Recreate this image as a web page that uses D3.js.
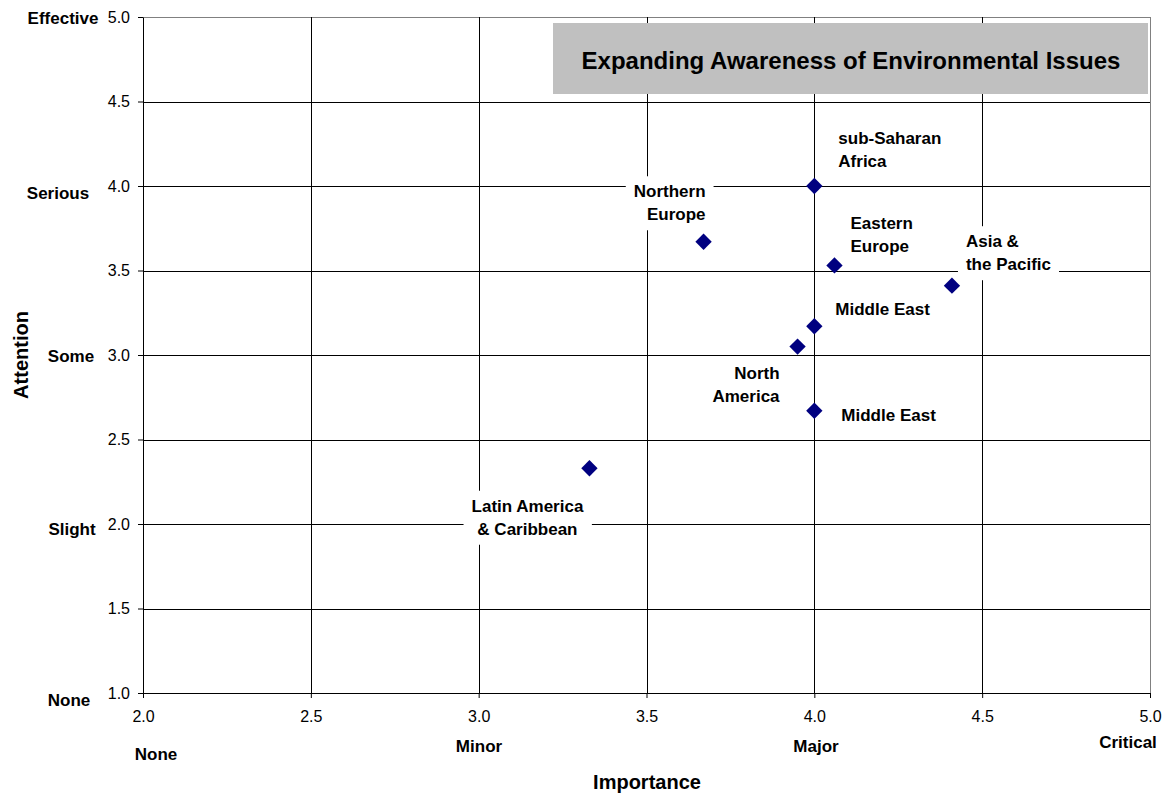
<!DOCTYPE html>
<html>
<head>
<meta charset="utf-8">
<script src="https://cdnjs.cloudflare.com/ajax/libs/d3/7.8.5/d3.min.js"></script>
<style>
    body { margin: 0; background: #fff; }
    text { font-family: Arial, "Liberation Sans", sans-serif; fill: #000; }
</style>
</head>
<body>
<div id="chart"></div>
<script>
// values
const regions = [
    ['sub-Saharan', 'Africa'],
    ['Northern', 'Europe'],
    ['Eastern', 'Europe'],
    ['Asia &', 'the Pacific'],
    ['Middle East'],
    ['North', 'America'],
    ['Middle East'],
    ['Latin America', '& Caribbean']
];
const importance = [4.0, 3.67, 4.06, 4.41, 4.0, 3.95, 4.0, 3.33];
const attention = [4.0, 3.67, 3.53, 3.41, 3.17, 3.05, 2.67, 2.33];

const xTicks = [2.0, 2.5, 3.0, 3.5, 4.0, 4.5, 5.0];
const yTicks = [1.0, 1.5, 2.0, 2.5, 3.0, 3.5, 4.0, 4.5, 5.0];
const xLevels = ['None', 'Minor', 'Major', 'Critical'];
const yLevels = ['None', 'Slight', 'Some', 'Serious', 'Effective'];

const title = 'Expanding Awareness of Environmental Issues';

// label placement relative to each point (anchor, dx, dy of first line)
const labelPos = [
    ['start', 24, -48],
    ['end', 2, -50],
    ['start', 16, -42],
    ['start', 14, -44],
    ['start', 21, -17],
    ['end', -18, 27],
    ['start', 27, 5],
    ['middle', -62, 38]
];
// hand placed level labels (centre x / y)
const yLevelPos = [[69, 700], [72, 529], [71, 356], [58, 193], [63, 18]];
const xLevelPos = [[156, 754], [479, 746], [816, 746], [1128, 742]];

(function(){
    const fullWidth = 1163;
    const fullHeight = 794;
    const margin = { top: 17, left: 143, right: 13, bottom: 101 };
    const width = fullWidth - margin.left - margin.right;
    const height = fullHeight - margin.top - margin.bottom;

    const svg = d3.select('#chart')
        .append('svg')
            .attr('width', fullWidth)
            .attr('height', fullHeight);

    const g = svg.append('g')
        .attr('transform', `translate(${margin.left}, ${margin.top})`);

    const xScale = d3.scaleLinear().domain([2, 5]).range([0, width]);
    const yScale = d3.scaleLinear().domain([1, 5]).range([height, 0]);

    // grid
    g.append('g')
        .selectAll('line')
        .data(yTicks.slice(1))
        .join('line')
            .attr('x1', 0).attr('x2', width)
            .attr('y1', d => Math.round(yScale(d)) + 0.5)
            .attr('y2', d => Math.round(yScale(d)) + 0.5)
            .attr('stroke', d => d === 5 ? '#808080' : '#000')
            .attr('stroke-width', 1);

    g.append('g')
        .selectAll('line')
        .data(xTicks.slice(1))
        .join('line')
            .attr('y1', 0).attr('y2', height)
            .attr('x1', d => Math.round(xScale(d)) + 0.5)
            .attr('x2', d => Math.round(xScale(d)) + 0.5)
            .attr('stroke', d => d === 5 ? '#808080' : '#000')
            .attr('stroke-width', 1);

    // axes
    const xAxis = d3.axisBottom(xScale)
        .tickValues(xTicks)
        .tickFormat(d3.format('.1f'))
        .tickSizeInner(5).tickSizeOuter(0).tickPadding(13);
    const yAxis = d3.axisLeft(yScale)
        .tickValues(yTicks)
        .tickFormat(d3.format('.1f'))
        .tickSizeInner(5).tickSizeOuter(0).tickPadding(8);

    const xg = g.append('g')
        .attr('transform', `translate(0, ${height})`)
        .call(xAxis);
    const yg = g.append('g').call(yAxis);

    [xg, yg].forEach(a => {
        a.selectAll('path, line').attr('stroke', '#000');
        a.selectAll('text')
            .style('font-family', 'Arial, "Liberation Sans", sans-serif')
            .style('font-size', '16px')
            .attr('fill', '#000');
    });

    // title box
    g.append('rect')
        .attr('x', 553 - margin.left)
        .attr('y', 23 - margin.top)
        .attr('width', 595)
        .attr('height', 71)
        .attr('fill', '#c0c0c0');
    g.append('text')
        .attr('x', 553 - margin.left + 298)
        .attr('y', 23 - margin.top + 37)
        .attr('text-anchor', 'middle')
        .attr('dominant-baseline', 'central')
        .style('font-size', '24px')
        .style('font-weight', 'bold')
        .text(title);

    // level labels
    svg.append('g')
        .selectAll('text')
        .data(yLevels)
        .join('text')
            .attr('x', (d, i) => yLevelPos[i][0])
            .attr('y', (d, i) => yLevelPos[i][1])
            .attr('text-anchor', 'middle')
            .attr('dominant-baseline', 'central')
            .style('font-size', '17px')
            .style('font-weight', 'bold')
            .text(d => d);

    svg.append('g')
        .selectAll('text')
        .data(xLevels)
        .join('text')
            .attr('x', (d, i) => xLevelPos[i][0])
            .attr('y', (d, i) => xLevelPos[i][1])
            .attr('text-anchor', 'middle')
            .attr('dominant-baseline', 'central')
            .style('font-size', '17px')
            .style('font-weight', 'bold')
            .text(d => d);

    // axis titles
    svg.append('text')
        .attr('x', 647)
        .attr('y', 782)
        .attr('text-anchor', 'middle')
        .attr('dominant-baseline', 'central')
        .style('font-size', '20px')
        .style('font-weight', 'bold')
        .text('Importance');

    svg.append('text')
        .attr('transform', 'translate(21, 355) rotate(-90)')
        .attr('text-anchor', 'middle')
        .attr('dominant-baseline', 'central')
        .style('font-size', '20px')
        .style('font-weight', 'bold')
        .text('Attention');

    // point labels with white boxes
    const labels = g.append('g')
        .selectAll('g')
        .data(regions)
        .join('g')
            .attr('transform', (d, i) => `translate(${xScale(importance[i]) + labelPos[i][1]}, ${yScale(attention[i]) + labelPos[i][2]})`);

    labels.each(function(d, i) {
        const lg = d3.select(this);
        const rect = lg.append('rect').attr('fill', '#fff');
        const t = lg.append('text')
            .attr('text-anchor', labelPos[i][0])
            .style('font-size', '17px')
            .style('font-weight', 'bold');
        t.selectAll('tspan')
            .data(d)
            .join('tspan')
                .attr('x', 0)
                .attr('y', (s, j) => j * 23)
                .attr('dominant-baseline', 'central')
                .text(s => s);
        const bb = t.node().getBBox();
        rect.attr('x', bb.x - 8).attr('y', bb.y - 6)
            .attr('width', bb.width + 16).attr('height', bb.height + 12);
    });

    // points
    g.append('g')
        .selectAll('path')
        .data(importance)
        .join('path')
            .attr('transform', (d, i) => `translate(${xScale(d)}, ${yScale(attention[i])})`)
            .attr('d', d3.symbol(d3.symbolDiamond2, 170)())
            .attr('fill', '#000080');
}())
</script>
</body>
</html>
